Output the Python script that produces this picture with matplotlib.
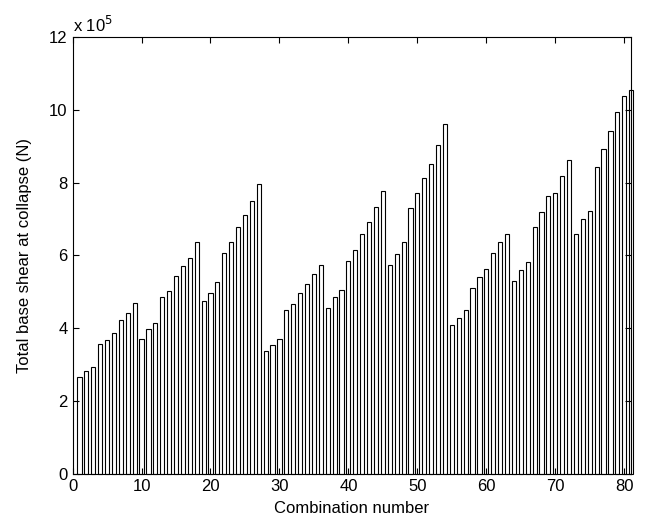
import numpy as np
import matplotlib
matplotlib.use('Agg')
import matplotlib.pyplot as plt
from matplotlib.ticker import FuncFormatter

plt.rcParams['font.family'] = ['Liberation Sans', 'DejaVu Sans']

# base shear at collapse, in units of 1e5 N
shear_1e5 = [
    2.67, 2.84, 2.95, 3.58, 3.68, 3.86, 4.24, 4.43, 4.70,
    3.72, 3.97, 4.14, 4.85, 5.02, 5.45, 5.72, 5.93, 6.36,
    4.74, 4.98, 5.27, 6.08, 6.36, 6.77, 7.10, 7.51, 7.96,
    3.37, 3.55, 3.72, 4.49, 4.67, 4.98, 5.23, 5.48, 5.75,
    4.56, 4.85, 5.06, 5.86, 6.14, 6.59, 6.91, 7.33, 7.76,
    5.75, 6.04, 6.38, 7.30, 7.72, 8.14, 8.50, 9.04, 9.61,
    4.08, 4.29, 4.49, 5.10, 5.40, 5.62, 6.07, 6.36, 6.60,
    5.30, 5.59, 5.83, 6.77, 7.20, 7.63, 7.72, 8.18, 8.63,
    6.60, 6.99, 7.23, 8.42, 8.92, 9.41, 9.93, 10.38, 10.55,
]
combination = np.arange(1, len(shear_1e5) + 1)
shear = np.array(shear_1e5) * 1e5

fig = plt.figure(figsize=(6.48, 5.27), dpi=100)
ax = fig.add_axes([0.112, 0.1006, 0.862, 0.8292])

ax.bar(combination, shear, width=0.6, facecolor='white', edgecolor='black',
       linewidth=0.8, clip_on=False)

ax.set_xlim(0, 81)
ax.set_ylim(0, 12e5)
ax.set_xticks(np.arange(0, 81, 10))
ax.set_yticks(np.arange(0, 12.1e5, 2e5))
ax.yaxis.set_major_formatter(FuncFormatter(lambda v, p: '%g' % (v / 1e5)))
ax.tick_params(direction='in', top=True, right=True, labelsize=12, length=4)
for s in ax.spines.values():
    s.set_linewidth(0.8)

ax.text(0.0, 1.005, r'x 10$^5$', transform=ax.transAxes, fontsize=12,
        ha='left', va='bottom')
ax.set_xlabel('Combination number', fontsize=12, labelpad=5)
ax.set_ylabel('Total base shear at collapse (N)', fontsize=12, labelpad=12)

fig.savefig('out.png', dpi=100)
